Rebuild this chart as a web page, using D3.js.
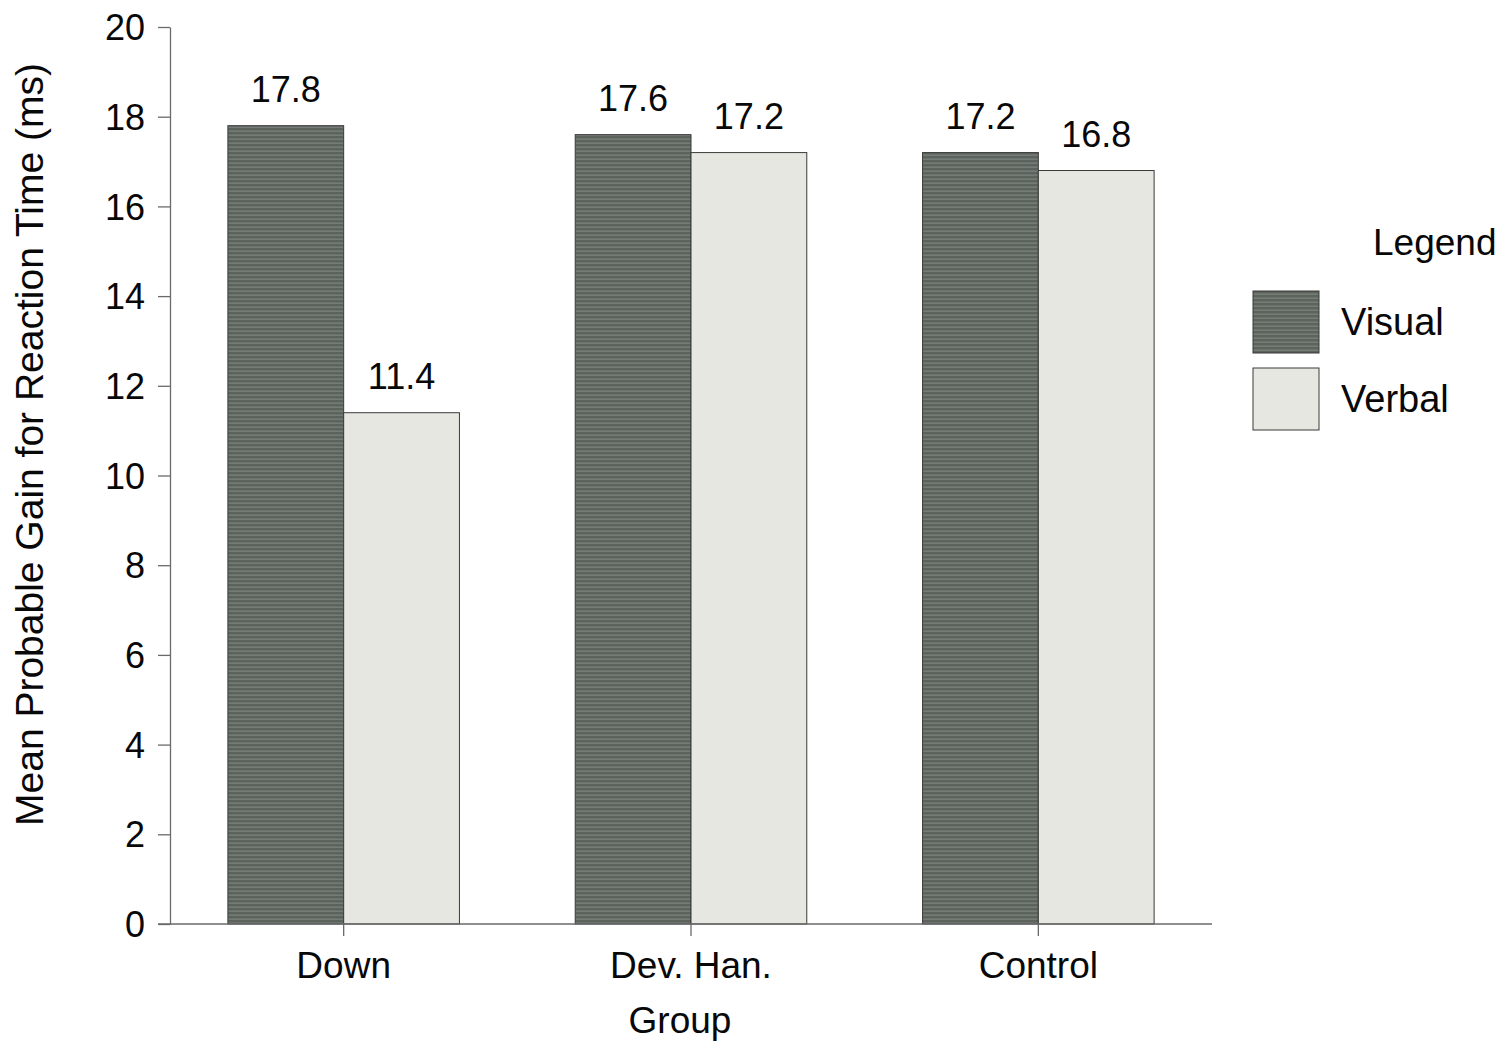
<!DOCTYPE html>
<html lang="en">
<head>
<meta charset="UTF-8" />
<title>Mean Probable Gain for Reaction Time</title>
<style>
  body { margin: 0; background: #fff; }
  svg text { font-family: "Liberation Sans", Arial, Helvetica, sans-serif; fill: #080808; }
  .axis path, .axis line { stroke: #6a6a6a; stroke-width: 1.3; }
</style>
</head>
<body>
<div id="chart"></div>
<script src="https://cdn.jsdelivr.net/npm/d3@7"></script>
<script>
// data
const groups = ['Down', 'Dev. Han.', 'Control']
const seriesNames = ['Visual', 'Verbal']
const visual = [17.8, 17.6, 17.2]
const verbal = [11.4, 17.2, 16.8]
const yTicks = [0, 2, 4, 6, 8, 10, 12, 14, 16, 18, 20]

const width = 1512
const height = 1047
const plotLeft = 170, plotRight = 1212, plotTop = 27, plotBottom = 924

const svg = d3.select('#chart')
  .append('svg')
  .attr('width', width)
  .attr('height', height)

// striped fill for the dark bars
const defs = svg.append('defs')
const stripes = defs.append('pattern')
  .attr('id', 'stripes')
  .attr('patternUnits', 'userSpaceOnUse')
  .attr('width', 8)
  .attr('height', 4)
stripes.append('rect').attr('width', 8).attr('height', 4).attr('fill', '#5b635b')
stripes.append('rect').attr('y', 2.5).attr('width', 8).attr('height', 1.3).attr('fill', '#7b817e')

const x0 = d3.scaleBand()
  .domain(groups)
  .range([plotLeft, plotRight])
  .paddingInner(1 / 3)
  .paddingOuter(1 / 6)

const x1 = d3.scaleBand()
  .domain(seriesNames)
  .range([0, x0.bandwidth()])

const y = d3.scaleLinear()
  .domain([0, 20])
  .range([plotBottom, plotTop])

const fills = { Visual: 'url(#stripes)', Verbal: '#e7e7e2' }

const rows = groups.map((g, i) => ({ group: g, values: [
  { key: 'Visual', value: visual[i] },
  { key: 'Verbal', value: verbal[i] }
] }))

const gBars = svg.selectAll('g.grp')
  .data(rows)
  .join('g')
  .attr('class', 'grp')
  .attr('transform', d => `translate(${x0(d.group)},0)`)

gBars.selectAll('rect')
  .data(d => d.values)
  .join('rect')
  .attr('x', d => x1(d.key))
  .attr('y', d => y(d.value))
  .attr('width', x1.bandwidth())
  .attr('height', d => y(0) - y(d.value))
  .attr('fill', d => fills[d.key])
  .attr('stroke', '#3a3a3a')
  .attr('stroke-width', 1)

gBars.selectAll('text.val')
  .data(d => d.values)
  .join('text')
  .attr('class', 'val')
  .attr('x', d => x1(d.key) + x1.bandwidth() / 2)
  .attr('y', d => y(d.value) - 24)
  .attr('text-anchor', 'middle')
  .style('font-size', '36px')
  .text(d => d.value.toFixed(1))

// y axis
const yAxis = d3.axisLeft(y)
  .tickValues(yTicks)
  .tickSize(12)
  .tickPadding(10)
  .tickSizeOuter(0)

svg.append('g')
  .attr('class', 'axis')
  .attr('transform', `translate(${plotLeft},0)`)
  .call(yAxis)
  .call(g => g.selectAll('text').style('font-size', '36px').attr('x', -25).attr('dy', '0.35em'))

// x axis
const xAxis = d3.axisBottom(x0)
  .tickSize(12)
  .tickPadding(16)
  .tickSizeOuter(0)

svg.append('g')
  .attr('class', 'axis')
  .attr('transform', `translate(0,${plotBottom})`)
  .call(xAxis)
  .call(g => g.select('.domain').attr('d', `M${plotLeft - 12},0H${plotRight}`))
  .call(g => g.selectAll('text').style('font-size', '37px'))

// axis titles
svg.append('text')
  .attr('transform', `translate(43,${(plotTop + plotBottom) / 2 - 31}) rotate(-90)`)
  .attr('text-anchor', 'middle')
  .style('font-size', '39px')
  .text('Mean Probable Gain for Reaction Time (ms)')

svg.append('text')
  .attr('x', 680)
  .attr('y', 1033)
  .attr('text-anchor', 'middle')
  .style('font-size', '37px')
  .text('Group')

// legend
const legend = svg.append('g').attr('transform', 'translate(1253,0)')
legend.append('text')
  .attr('x', 120)
  .attr('y', 255)
  .style('font-size', '37px')
  .text('Legend')

const items = legend.selectAll('g.item')
  .data(seriesNames)
  .join('g')
  .attr('class', 'item')
  .attr('transform', (d, i) => `translate(0,${291 + i * 77})`)

items.append('rect')
  .attr('width', 66)
  .attr('height', 62)
  .attr('fill', d => fills[d])
  .attr('stroke', '#3a3a3a')
  .attr('stroke-width', 1)

items.append('text')
  .attr('x', 88)
  .attr('y', 31)
  .attr('dy', '0.35em')
  .style('font-size', '38px')
  .text(d => d)
</script>
</body>
</html>
